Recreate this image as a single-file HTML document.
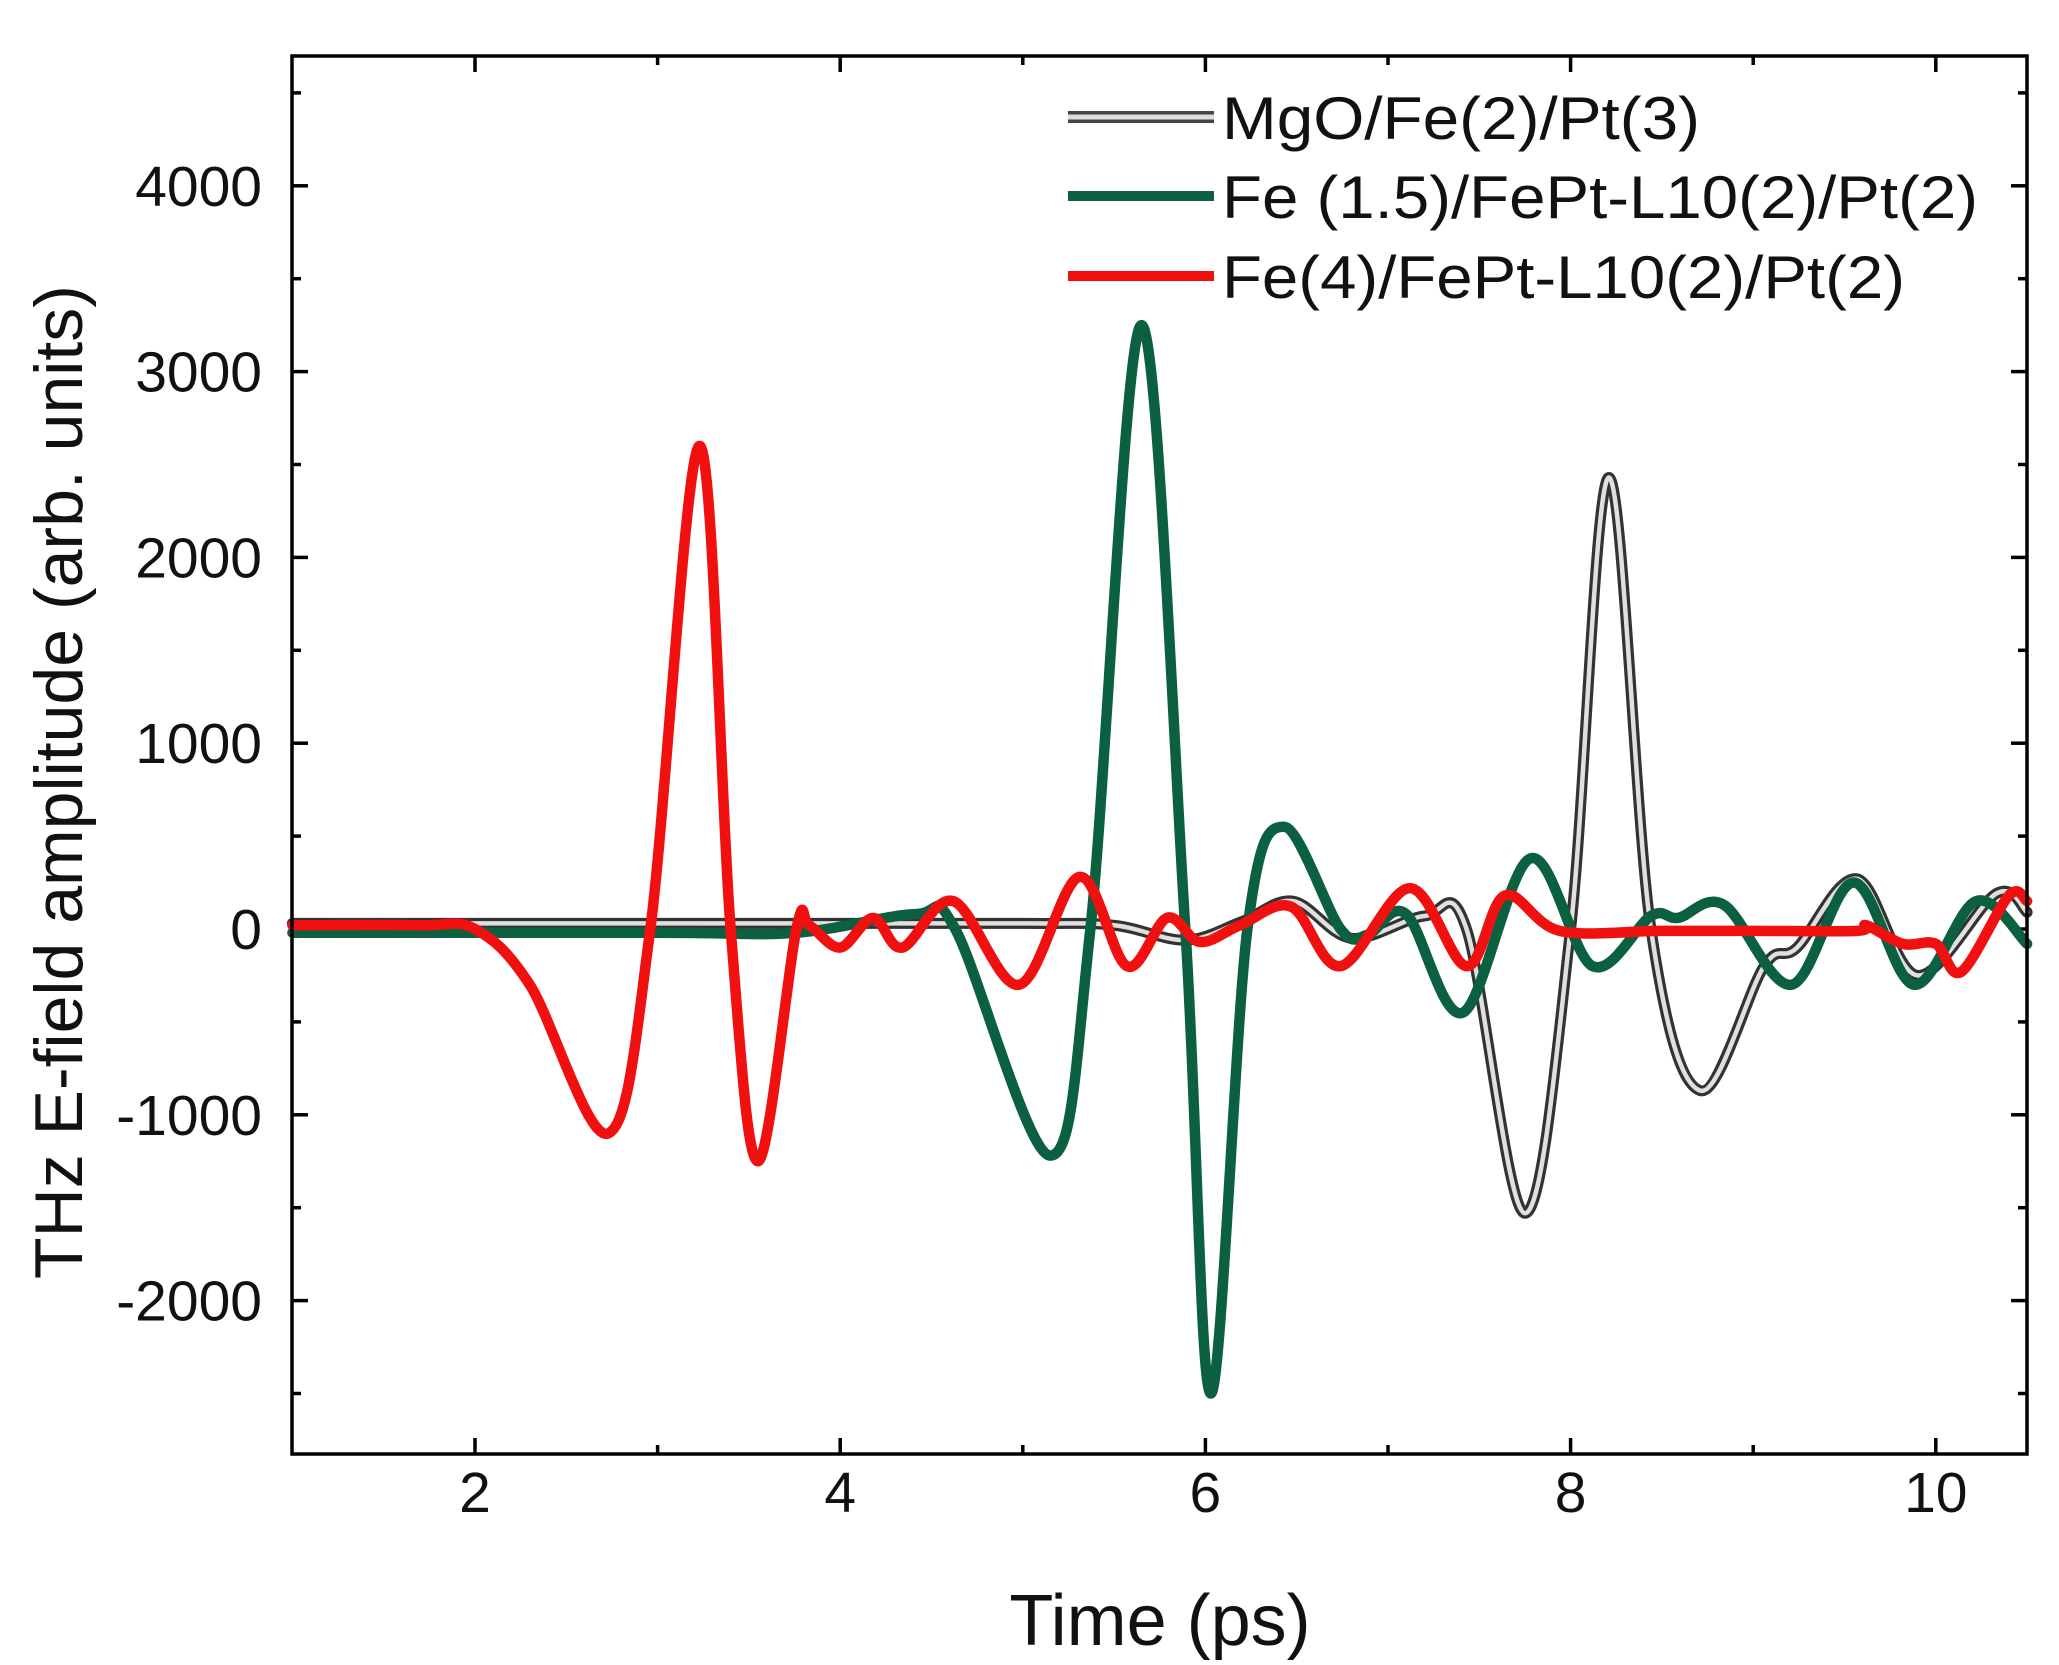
<!DOCTYPE html>
<html><head><meta charset="utf-8"><style>
html,body{margin:0;padding:0;background:#fff;}
svg{display:block;font-family:"Liberation Sans",Arial,sans-serif;}
</style></head><body>
<svg id="s" width="2059" height="1665" xmlns="http://www.w3.org/2000/svg">
<rect width="2059" height="1665" fill="#fff"/>
<g id="ticks"></g>
<g id="series"></g>
<rect x="292" y="56" width="1735" height="1398" fill="none" stroke="#000" stroke-width="3.5"/>
<g font-size="57" fill="#111" text-anchor="end" id="ylab"></g>
<g font-size="57" fill="#111" text-anchor="middle" id="xlab"></g>
<text x="1160" y="1645" font-size="72" text-anchor="middle" fill="#111">Time (ps)</text>
<text transform="translate(82,782) rotate(-90)" font-size="68" text-anchor="middle" fill="#111">THz E-field amplitude (arb. units)</text>
<g>
<line x1="1068" y1="117" x2="1214" y2="117" stroke="#444" stroke-width="12"/>
<line x1="1068" y1="117" x2="1214" y2="117" stroke="#ddd" stroke-width="5"/>
<line x1="1068" y1="196" x2="1214" y2="196" stroke="#0b6040" stroke-width="10"/>
<line x1="1068" y1="276" x2="1214" y2="276" stroke="#f01010" stroke-width="10"/>
<g font-size="60" fill="#111">
<text x="1222" y="139" textLength="478" lengthAdjust="spacingAndGlyphs">MgO/Fe(2)/Pt(3)</text>
<text x="1222" y="218" textLength="756" lengthAdjust="spacingAndGlyphs">Fe (1.5)/FePt-L10(2)/Pt(2)</text>
<text x="1222" y="298" textLength="683" lengthAdjust="spacingAndGlyphs">Fe(4)/FePt-L10(2)/Pt(2)</text>
</g></g>
</svg>
<script>
const X=t=>475+(t-2)*182.6, Y=v=>929-v*0.1858;
const NS="http://www.w3.org/2000/svg";
function el(p,n,a,txt){const e=document.createElementNS(NS,n);for(const k in a)e.setAttribute(k,a[k]);if(txt!==undefined)e.textContent=txt;document.getElementById(p).appendChild(e);return e;}
for(let t=2;t<=10.01;t+=1){const big=(t%2===0);const L=big?16:9;
 el("ticks","line",{x1:X(t),x2:X(t),y1:1454,y2:1454-L,stroke:"#000","stroke-width":3.5});
 el("ticks","line",{x1:X(t),x2:X(t),y1:56,y2:56+L,stroke:"#000","stroke-width":3.5});
 if(big)el("xlab","text",{x:X(t),y:1512},String(t));}
for(let v=-2500;v<=4500;v+=500){const big=(v%1000===0);const L=big?16:9;
 el("ticks","line",{x1:292,x2:292+L,y1:Y(v),y2:Y(v),stroke:"#000","stroke-width":3.5});
 el("ticks","line",{x1:2027,x2:2027-L,y1:Y(v),y2:Y(v),stroke:"#000","stroke-width":3.5});
 if(big&&v>=-2000&&v<=4000)el("ylab","text",{x:262,y:Y(v)+20},String(v));}
function path(pts){const P=pts.map(p=>[X(p[0]),Y(p[1])]);let d="M"+P[0][0]+","+P[0][1];
 for(let i=0;i<P.length-1;i++){const p0=P[Math.max(0,i-1)],p1=P[i],p2=P[i+1],p3=P[Math.min(P.length-1,i+2)];
 const c1=[p1[0]+(p2[0]-p0[0])/6,p1[1]+(p2[1]-p0[1])/6],c2=[p2[0]-(p3[0]-p1[0])/6,p2[1]-(p3[1]-p1[1])/6];
 d+=`C${c1[0]},${c1[1]} ${c2[0]},${c2[1]} ${p2[0]},${p2[1]}`;}return d;}
const gray=[[1,30],[3,30],[5,30],[5.5,20],[5.89,-60],[6.2,40],[6.48,150],[6.8,-50],[7.2,70],[7.43,0],[7.75,-1530],[8.0,0],[8.21,2430],[8.44,0],[8.71,-870],[9.06,-200],[9.24,-100],[9.57,270],[9.9,-250],[10.33,190],[10.5,90]];
const green=[[1,-20],[3,-20],[3.76,-20],[4.41,80],[4.63,0],[5.15,-1220],[5.37,0],[5.65,3250],[5.89,0],[6.03,-2500],[6.23,0],[6.43,550],[6.74,0],[6.89,-30],[7.1,80],[7.41,-450],[7.78,380],[8.12,-200],[8.44,70],[8.59,60],[8.84,130],[9.21,-300],[9.55,250],[9.88,-300],[10.22,150],[10.5,-80]];
const red=[[1,20],[1.7,20],[2.0,0],[2.3,-300],[2.73,-1100],[2.96,0],[3.23,2600],[3.4,0],[3.55,-1250],[3.76,0],[3.83,20],[4.0,-100],[4.18,60],[4.34,-100],[4.62,150],[4.98,-300],[5.31,280],[5.57,-200],[5.79,60],[5.97,-70],[6.19,20],[6.47,120],[6.74,-200],[7.12,220],[7.43,-200],[7.64,180],[7.94,-10],[8.5,-10],[9.0,-10],[9.57,-10],[9.62,20],[9.82,-80],[10.0,-80],[10.14,-230],[10.4,180],[10.5,150]];
function draw(pts,c,w){el("series","path",{d:path(pts),fill:"none",stroke:c,"stroke-width":w,"stroke-linejoin":"round","stroke-linecap":"round"});}
draw(gray,"#333",11);draw(gray,"#e0e0e0",4.5);
draw(green,"#0b6040",10.5);
draw(red,"#f01010",10.5);
</script>
</body></html>
